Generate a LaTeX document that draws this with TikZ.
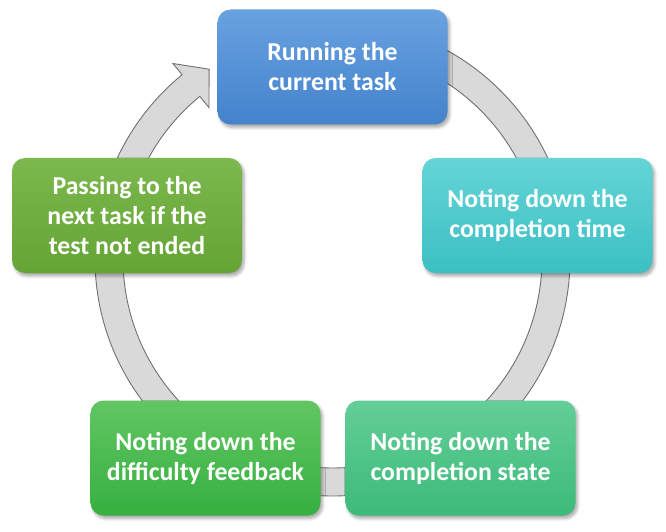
\documentclass[tikz,border=0pt]{standalone}
\usepackage{fontspec}
\setmainfont{Carlito}
\usetikzlibrary{calc,shadows.blur}
\definecolor{blueT}{RGB}{104,162,224}
\definecolor{blueB}{RGB}{68,130,204}
\definecolor{tealT}{RGB}{100,212,214}
\definecolor{tealB}{RGB}{60,192,196}
\definecolor{mintT}{RGB}{100,206,152}
\definecolor{mintB}{RGB}{60,186,122}
\definecolor{grnT}{RGB}{98,198,98}
\definecolor{grnB}{RGB}{54,176,64}
\definecolor{oliT}{RGB}{124,184,78}
\definecolor{oliB}{RGB}{100,164,52}
\definecolor{ringfill}{RGB}{217,217,217}
\definecolor{ringline}{RGB}{112,112,112}
\begin{document}
\begin{tikzpicture}[x=1pt,y=1pt,
  cbox/.style={rounded corners=13pt, minimum width=230pt, minimum height=115pt,
    inner sep=0pt, align=center, text=white,
    font=\fontsize{25.8}{30}\selectfont\bfseries,
    blur shadow={shadow xshift=2pt, shadow yshift=-3pt, shadow blur steps=6,
      shadow blur radius=3pt, shadow opacity=35}},
  ringst/.style={fill=ringfill, draw=ringline, line width=0.9pt, line join=miter}]
\useasboundingbox (0,0) rectangle (666,531);
\coordinate (c) at (332.5,272.5);
\path[ringst] ($(c)+(90:237.5)$) arc[start angle=90,end angle=-230.7,radius=237.5]
  -- ($(c)+(-230.7:252)$) -- ($(c)+(-236.9:226)$) -- ($(c)+(-230.7:195)$)
  -- ($(c)+(-230.7:209.5)$) arc[start angle=-230.7,end angle=90,radius=209.5] -- cycle;
\node[cbox, top color=blueT, bottom color=blueB] (run) at (332.5,464) {Running the\\current task};
\node[cbox, top color=tealT, bottom color=tealB] (time) at (537.5,315.5) {Noting down the\\completion time};
\node[cbox, top color=mintT, bottom color=mintB] (state) at (460.5,73) {Noting down the\\completion state};
\node[cbox, top color=grnT, bottom color=grnB] (diff) at (205.5,73) {Noting down the\\difficulty feedback};
\node[cbox, top color=oliT, bottom color=oliB] (pass) at (127,315.5) {Passing to the\\next task if the\\test not ended};
\end{tikzpicture}
\end{document}
